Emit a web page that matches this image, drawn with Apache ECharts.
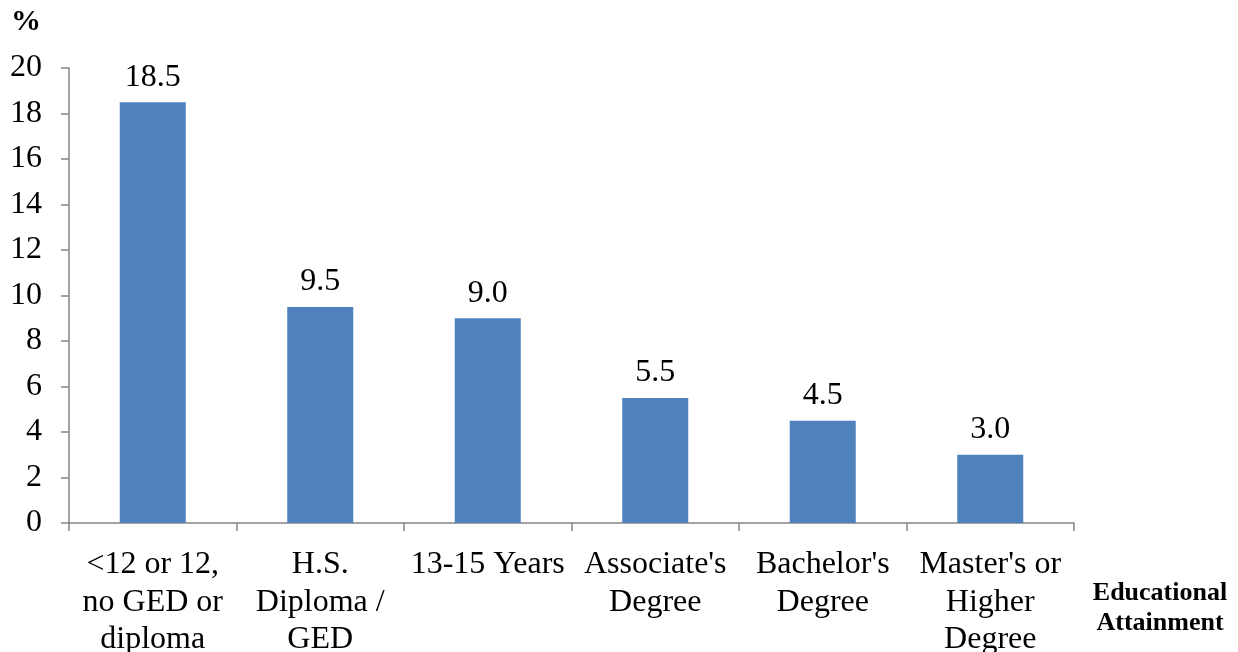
<!DOCTYPE html>
<html><head><meta charset="utf-8">
<script src="https://cdn.jsdelivr.net/npm/echarts@6/dist/echarts.min.js"></script>
<style>html,body{margin:0;padding:0;background:#fff}#c{width:1238px;height:652px}</style>
</head><body><div id="c"></div>
<script>
const categories = ["<12 or 12,\nno GED or\ndiploma", "H.S.\nDiploma /\nGED", "13-15 Years", "Associate's\nDegree", "Bachelor's\nDegree", "Master's or\nHigher\nDegree"];
const values = [18.5, 9.5, 9.0, 5.5, 4.5, 3.0];
const yTicks = { min: 0, max: 20, interval: 2 };
const yTitle = "%";
const xTitle = "Educational\nAttainment";

const font = "'Liberation Serif', 'Times New Roman', serif";
const axisColor = '#868686';
const chart = echarts.init(document.getElementById('c'));
chart.setOption({
  animation: false,
  grid: { left: 69, right: 164, top: 68, bottom: 129, containLabel: false, outerBoundsMode: 'none' },
  xAxis: {
    type: 'category', data: categories,
    axisLine: { lineStyle: { color: axisColor, width: 1.5 } },
    axisTick: { show: true, length: 8, lineStyle: { color: axisColor, width: 1.5 } },
    axisLabel: { color: '#000', fontFamily: font, fontSize: 32, lineHeight: 37.5, margin: 23, interval: 0 }
  },
  yAxis: {
    type: 'value', min: yTicks.min, max: yTicks.max, interval: yTicks.interval,
    splitLine: { show: false },
    axisLine: { show: true, lineStyle: { color: axisColor, width: 1.5 } },
    axisTick: { show: true, length: 8, lineStyle: { color: axisColor, width: 1.5 } },
    axisLabel: { color: '#000', fontFamily: font, fontSize: 32, margin: 27 }
  },
  series: [{
    type: 'bar', data: values, barWidth: 66,
    itemStyle: { color: '#4F81BD' },
    label: { show: true, position: 'top', distance: 9, color: '#000', fontFamily: font, fontSize: 32,
      formatter: p => p.value.toFixed(1) }
  }],
  graphic: [
    { type: 'text', x: 26, y: 22, style: { text: yTitle, font: "bold 30px " + font, fill: '#000', align: 'center', verticalAlign: 'middle' } },
    { type: 'text', x: 1160, y: 608, style: { text: xTitle, font: "bold 26px " + font, fill: '#000', align: 'center', verticalAlign: 'middle', lineHeight: 30 } }
  ]
});
</script></body></html>
